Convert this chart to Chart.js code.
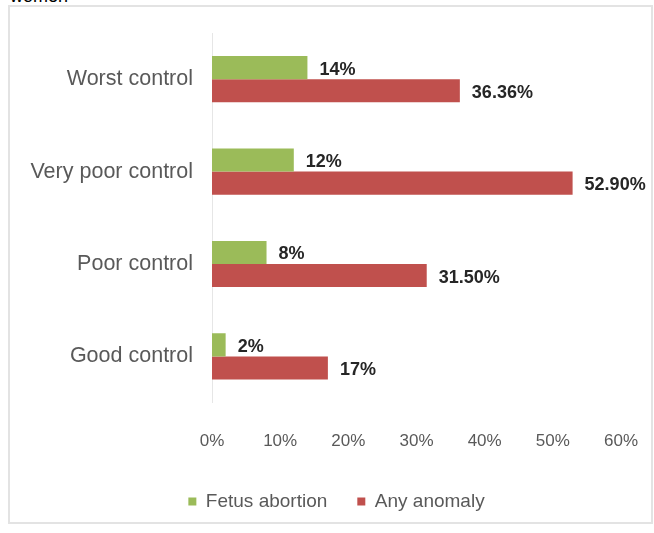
<!DOCTYPE html>
<html>
<head>
<meta charset="utf-8">
<script src="https://cdn.jsdelivr.net/npm/chart.js@4.4.1/dist/chart.umd.min.js"></script>
<style>
  html, body { margin: 0; padding: 0; background: #fff; }
  body { width: 654px; height: 533px; position: relative; overflow: hidden; }
  #caption { position: absolute; left: 10px; top: -13px; font: 18px "Liberation Sans", Arial, sans-serif; color: #000; line-height: 18px; }
  #frame { position: absolute; left: 8px; top: 5px; width: 641px; height: 515px; border: 2px solid #e3e3e3; box-sizing: content-box; }
  #wrap { position: absolute; left: 0; top: 0; width: 654px; height: 533px; }
</style>
</head>
<body>
<div id="caption">women</div>
<div id="frame"></div>
<div id="wrap"><canvas id="c" width="654" height="533"></canvas></div>
<script>
const categories = ['Worst control', 'Very poor control', 'Poor control', 'Good control'];
const fetusAbortion = [14, 12, 8, 2];
const anyAnomaly = [36.36, 52.9, 31.5, 17];
const fetusLabels = ['14%', '12%', '8%', '2%'];
const anomalyLabels = ['36.36%', '52.90%', '31.50%', '17%'];
const seriesNames = ['Fetus abortion', 'Any anomaly'];
const xTicks = [0, 10, 20, 30, 40, 50, 60];

const FONT = '"Liberation Sans", Arial, sans-serif';

const valueLabels = {
  id: 'valueLabels',
  afterDatasetsDraw(chart) {
    const ctx = chart.ctx;
    const sets = [fetusLabels, anomalyLabels];
    ctx.save();
    ctx.font = 'bold 18px ' + FONT;
    ctx.fillStyle = '#262626';
    ctx.textAlign = 'left';
    ctx.textBaseline = 'middle';
    chart.data.datasets.forEach((ds, di) => {
      const meta = chart.getDatasetMeta(di);
      meta.data.forEach((bar, i) => {
        ctx.fillText(sets[di][i], bar.x + 12, bar.y + 2);
      });
    });
    ctx.restore();
  }
};

const legendShift = {
  id: 'legendShift',
  afterLayout(chart) {
    const lg = chart.legend;
    if (!lg) return;
    lg.left += 21; lg.right += 21;
  }
};

new Chart(document.getElementById('c'), {
  type: 'bar',
  data: {
    labels: categories,
    datasets: [
      { label: seriesNames[0], data: fetusAbortion, backgroundColor: '#9BBB59' },
      { label: seriesNames[1], data: anyAnomaly, backgroundColor: '#C0504D' }
    ]
  },
  options: {
    indexAxis: 'y',
    responsive: false,
    animation: false,
    devicePixelRatio: 1,
    layout: { padding: { left: 10, right: 33, top: 33, bottom: 12 } },
    datasets: { bar: { categoryPercentage: 0.5, barPercentage: 1.0 } },
    scales: {
      x: {
        min: 0, max: 60,
        afterBuildTicks(scale) { scale.ticks = xTicks.map(v => ({ value: v })); },
        afterFit(scale) { scale.height += 10; },
        grid: { display: false, drawTicks: true, tickLength: 29 },
        border: { display: false },
        ticks: {
          padding: 0,
          color: '#595959',
          font: { family: FONT, size: 17 },
          callback: v => v + '%'
        }
      },
      y: {
        afterFit(scale) { scale.width = 202; },
        grid: { display: false, drawTicks: false },
        border: { display: true, color: '#e6e6e6', width: 1 },
        ticks: {
          padding: 19,
          color: '#595959',
          font: { family: FONT, size: 21.5 }
        }
      }
    },
    plugins: {
      legend: {
        position: 'bottom',
        labels: {
          boxWidth: 8, boxHeight: 8,
          padding: 30,
          color: '#595959',
          font: { family: FONT, size: 19 }
        }
      },
      tooltip: { enabled: false }
    }
  },
  plugins: [valueLabels, legendShift]
});
</script>
</body>
</html>
